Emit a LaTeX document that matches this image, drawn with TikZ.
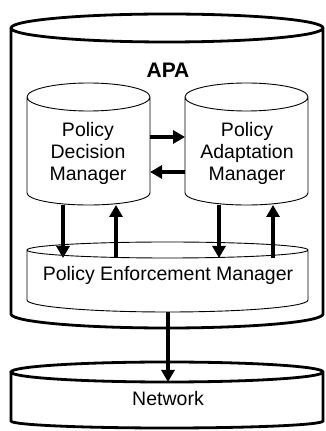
\documentclass[tikz,border=0pt]{standalone}
\usepackage{fontspec}
\setmainfont{Liberation Sans}
\usetikzlibrary{arrows.meta}

% cylinder: [style] {centre x} {x radius} {top y} {bottom y} {top y radius} {bottom y radius}
\newcommand{\cyl}[7][]{%
  \draw[#1] ({#2-#3},#4) -- ({#2-#3},#5)
    arc[start angle=180, end angle=360, x radius=#3, y radius=#7]
    -- ({#2+#3},#4)
    arc[start angle=0, end angle=360, x radius=#3, y radius=#6];}

\begin{document}
\begin{tikzpicture}[x=1pt,y=1pt,
  heavy/.style={line width=2.8pt},
  light/.style={line width=0.9pt},
  txt/.style={align=center,font=\fontsize{19.5}{22}\selectfont},
  arr/.style={line width=3.2pt,-{Triangle[length=12pt,width=13pt]}}]

\useasboundingbox (0,0) rectangle (325,431);

% outer drums
\cyl[heavy]{167}{156}{403}{117}{14}{14}
\cyl[heavy]{167}{156}{59}{10}{10}{7}

% inner drums
\cyl[light]{88.5}{61.5}{334}{238}{14}{12}
\cyl[light]{246.5}{61.5}{334}{238}{14}{12}
\cyl[light]{167.5}{140.5}{181}{131}{8}{12}

\node[font=\fontsize{21}{24}\selectfont\bfseries] (apa) at (168,361) {APA};
\node[txt] (pdm) at (88,278) {Policy\\Decision\\Manager};
\node[txt] (pam) at (247,278) {Policy\\Adaptation\\Manager};
\node[txt] (pem) at (168,156) {Policy Enforcement Manager};
\node[txt] (net) at (168,32) {Network};

\coordinate (r1) at (150,294);
\coordinate (r2) at (185,294);
\coordinate (l1) at (185,259);
\coordinate (l2) at (150,259);
\coordinate (d1) at (63,226);
\coordinate (d2) at (63,173);
\coordinate (u1) at (116,173);
\coordinate (u2) at (116,226);
\coordinate (d3) at (219,226);
\coordinate (d4) at (219,173);
\coordinate (u3) at (273,173);
\coordinate (u4) at (273,226);
\coordinate (n1) at (168,119);
\coordinate (n2) at (168,49);

\path[arr] (r1) edge (r2);
\path[arr] (l1) edge (l2);
\path[arr] (d1) edge (d2);
\path[arr] (u1) edge (u2);
\path[arr] (d3) edge (d4);
\path[arr] (u3) edge (u4);
\path[arr] (n1) edge (n2);

\end{tikzpicture}
\end{document}
